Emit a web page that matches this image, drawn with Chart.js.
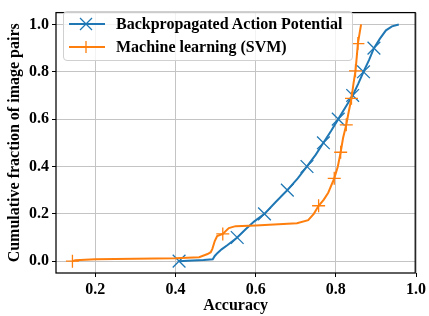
<!DOCTYPE html>
<html>
<head>
<meta charset="utf-8">
<script src="https://cdn.jsdelivr.net/npm/chart.js@4.4.1/dist/chart.umd.min.js"></script>
<style>
    html, body { margin: 0; padding: 0; background: #fff; }
    #wrap { position: relative; width: 429px; height: 316px; }
    .legend {
        position: absolute; left: 63px; top: 11px; width: 290px; height: 50px;
        box-sizing: border-box; border: 1px solid #d0d0d0; border-radius: 4px;
        background: rgba(255, 255, 255, 0.8);
        font: bold 16px 'Liberation Serif', 'Times New Roman', serif; color: #000;
    }
    .legend svg { position: absolute; left: 5px; width: 36px; height: 14px; }
    .legend span { position: absolute; left: 52px; line-height: 20px; white-space: nowrap; }
</style>
</head>
<body>
<div id="wrap">
    <canvas id="cdfChart" width="429" height="316"></canvas>
    <div class="legend">
        <svg style="top:5px" viewBox="0 0 36 14">
            <line x1="0" y1="7" x2="36" y2="7" stroke="#1f77b4" stroke-width="2"/>
            <line x1="11" y1="1" x2="23" y2="13" stroke="#1f77b4" stroke-width="1.3"/>
            <line x1="11" y1="13" x2="23" y2="1" stroke="#1f77b4" stroke-width="1.3"/>
        </svg>
        <span style="top:2px">Backpropagated Action Potential</span>
        <svg style="top:28px" viewBox="0 0 36 14">
            <line x1="0" y1="7" x2="36" y2="7" stroke="#ff7f0e" stroke-width="2"/>
            <line x1="17" y1="1" x2="17" y2="13" stroke="#ff7f0e" stroke-width="1.3"/>
            <line x1="11" y1="7" x2="23" y2="7" stroke="#ff7f0e" stroke-width="1.3"/>
        </svg>
        <span style="top:25px">Machine learning (SVM)</span>
    </div>
</div>
<script>
// Curva cumulativa - Backpropagated Action Potential
const bapAccuracy = [0.409, 0.43, 0.47, 0.493, 0.498, 0.505, 0.515, 0.53, 0.554, 0.575, 0.596, 0.622,
    0.65, 0.679, 0.705, 0.728, 0.75, 0.769, 0.788, 0.806, 0.824, 0.842, 0.856, 0.869, 0.883, 0.895,
    0.91, 0.925, 0.94, 0.957];
const bapFraction = [0.0, 0.002, 0.005, 0.008, 0.022, 0.035, 0.05, 0.068, 0.1, 0.135, 0.167, 0.2,
    0.25, 0.3, 0.35, 0.4, 0.45, 0.5, 0.55, 0.6, 0.65, 0.7, 0.75, 0.8, 0.85, 0.9,
    0.94, 0.975, 0.992, 1.0];
const bapMarkAccuracy = [0.409, 0.554, 0.622, 0.679, 0.728, 0.769, 0.806, 0.842, 0.869, 0.895];
const bapMarkFraction = [0.0, 0.1, 0.2, 0.3, 0.4, 0.5, 0.6, 0.7, 0.8, 0.9];

// Curva cumulativa - Machine learning (SVM)
const svmAccuracy = [0.143, 0.15, 0.2, 0.3, 0.4, 0.459, 0.48, 0.488, 0.492, 0.498, 0.504, 0.518,
    0.533, 0.55, 0.6, 0.657, 0.703, 0.731, 0.745, 0.757, 0.77, 0.781, 0.796, 0.805, 0.812, 0.818,
    0.826, 0.832, 0.839, 0.844, 0.849, 0.852, 0.855, 0.859, 0.863];
const svmFraction = [0.0, 0.004, 0.008, 0.01, 0.012, 0.017, 0.03, 0.038, 0.052, 0.085, 0.106, 0.115,
    0.14, 0.148, 0.151, 0.156, 0.16, 0.173, 0.2, 0.234, 0.26, 0.289, 0.35, 0.4, 0.46, 0.52,
    0.576, 0.63, 0.688, 0.75, 0.804, 0.86, 0.919, 0.96, 1.0];
const svmMarkAccuracy = [0.143, 0.518, 0.757, 0.796, 0.812, 0.826, 0.839, 0.849, 0.855];
const svmMarkFraction = [0.0, 0.115, 0.234, 0.35, 0.46, 0.576, 0.688, 0.804, 0.919];

const xTicks = [0.2, 0.4, 0.6, 0.8, 1.0];
const yTicks = [0.0, 0.2, 0.4, 0.6, 0.8, 1.0];

const BLUE = '#1f77b4';
const ORANGE = '#ff7f0e';
const serif = "'Liberation Serif', 'Times New Roman', serif";

function toPoints(xs, ys) {
    return xs.map((x, i) => ({ x: x, y: ys[i] }));
}

// moldura completa (matplotlib desenha os quatro lados)
const frame = {
    id: 'frame',
    afterDatasetsDraw(chart) {
        const a = chart.chartArea;
        const ctx = chart.ctx;
        ctx.save();
        ctx.strokeStyle = '#000';
        ctx.lineWidth = 1.25;
        ctx.strokeRect(a.left, a.top, a.right - a.left, a.bottom - a.top);
        ctx.restore();
    }
};

Chart.defaults.font.family = serif;
Chart.defaults.font.weight = 'bold';
Chart.defaults.font.size = 16;
Chart.defaults.color = '#000';

new Chart(document.getElementById('cdfChart'), {
    type: 'scatter',
    data: {
        datasets: [
            {
                data: toPoints(svmMarkAccuracy, svmMarkFraction),
                showLine: false,
                pointStyle: 'cross',
                pointRadius: 6.5,
                borderColor: ORANGE,
                borderWidth: 1.3,
                order: 0
            },
            {
                data: toPoints(svmAccuracy, svmFraction),
                showLine: true,
                pointRadius: 0,
                borderColor: ORANGE,
                borderWidth: 2,
                tension: 0,
                order: 1
            },
            {
                data: toPoints(bapMarkAccuracy, bapMarkFraction),
                showLine: false,
                pointStyle: 'crossRot',
                pointRadius: 9,
                borderColor: BLUE,
                borderWidth: 1.3,
                order: 2
            },
            {
                data: toPoints(bapAccuracy, bapFraction),
                showLine: true,
                pointRadius: 0,
                borderColor: BLUE,
                borderWidth: 2,
                tension: 0,
                order: 3
            }
        ]
    },
    options: {
        responsive: false,
        animation: false,
        layout: { padding: { left: 0, right: 11, top: 3, bottom: 0 } },
        plugins: {
            legend: { display: false },
            tooltip: { enabled: false }
        },
        scales: {
            x: {
                type: 'linear',
                min: 0.102,
                max: 0.998,
                afterFit(scale) { scale.height = 43; },
                afterBuildTicks(scale) { scale.ticks = xTicks.map(v => ({ value: v })); },
                border: { display: false },
                grid: { color: '#c4c4c4', lineWidth: 1, tickColor: '#000', tickLength: 4 },
                ticks: { padding: 3, callback: v => v.toFixed(1) },
                title: { display: true, text: 'Accuracy', padding: { top: 0, bottom: 1 } }
            },
            y: {
                type: 'linear',
                min: -0.05,
                max: 1.05,
                afterFit(scale) { scale.width = 56; },
                afterBuildTicks(scale) { scale.ticks = yTicks.map(v => ({ value: v })); },
                border: { display: false },
                grid: { color: '#c4c4c4', lineWidth: 1, tickColor: '#000', tickLength: 4 },
                ticks: { padding: 3, callback: v => v.toFixed(1) },
                title: { display: true, text: 'Cumulative fraction of image pairs', padding: { top: 5, bottom: 0 } }
            }
        }
    },
    plugins: [frame]
});
</script>
</body>
</html>
